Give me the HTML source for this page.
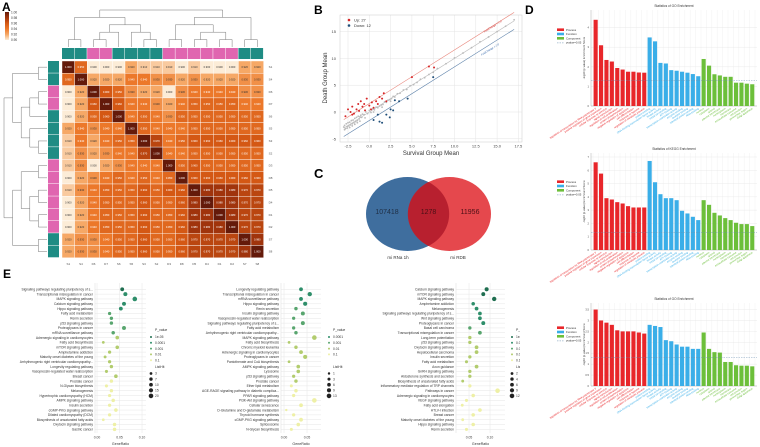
<!DOCTYPE html>
<html><head><meta charset="utf-8">
<style>
html,body{margin:0;padding:0;background:#fff;}
svg{display:block;font-family:"Liberation Sans",sans-serif;}
</style></head>
<body>
<svg id="fig" width="760" height="447" viewBox="0 0 760 447" xmlns="http://www.w3.org/2000/svg">
<rect x="0" y="0" width="760" height="447" fill="#fff"/>
<g id="gA"></g>
<g id="gB"></g>
<g id="gC">
  <text x="314" y="178" font-size="13" font-weight="bold">C</text>
  <ellipse cx="407.5" cy="214" rx="41.5" ry="37" fill="#3f6e9e"/>
  <ellipse cx="449.5" cy="214" rx="41.5" ry="37" fill="#e5484d"/>
  <path d="M428.5 182 A41.5 37 0 0 1 428.5 246 A41.5 37 0 0 1 428.5 182Z" fill="#b8202f"/>
  <text x="387" y="214" font-size="7" text-anchor="middle" fill="#1f2f45">107418</text>
  <text x="428.5" y="214" font-size="7" text-anchor="middle" fill="#4a1016">1278</text>
  <text x="470" y="214" font-size="7" text-anchor="middle" fill="#4a1016">11956</text>
  <text x="398" y="259" font-size="4.5" text-anchor="middle" fill="#333">mi RNa 1h</text>
  <text x="458" y="259" font-size="4.5" text-anchor="middle" fill="#333">mi RDB</text>
</g>
<g id="gE"></g>
<rect x="520" y="318" width="40" height="129" fill="#fff"/>
<g id="gD"></g>
</svg>
<script>
// ---------- Panel A data ----------
const hmValues = [
[1.00,.95,.90,.90,.90,.92,.91,.91,.91,.90,.91,.90,.90,.90,.92,.92],
[.95,1.00,.92,.92,.92,.94,.94,.93,.93,.92,.93,.92,.92,.92,.93,.93],
[.90,.92,1.00,.96,.95,.93,.92,.92,.90,.93,.94,.94,.94,.94,.93,.93],
[.90,.92,.96,1.00,.96,.94,.94,.93,.92,.94,.95,.95,.95,.95,.94,.94],
[.90,.92,.95,.96,1.00,.94,.95,.94,.93,.95,.95,.95,.95,.95,.95,.95],
[.92,.94,.93,.94,.94,1.00,.95,.94,.94,.94,.95,.95,.95,.95,.95,.95],
[.91,.94,.92,.94,.95,.95,1.00,.97,.94,.95,.96,.96,.96,.96,.96,.96],
[.91,.93,.92,.93,.94,.94,.97,1.00,.94,.94,.95,.95,.95,.95,.95,.95],
[.91,.93,.90,.92,.93,.94,.94,.94,1.00,.95,.96,.95,.95,.95,.95,.95],
[.90,.92,.93,.94,.95,.94,.95,.94,.95,1.00,.96,.96,.96,.96,.96,.96],
[.91,.93,.94,.95,.95,.95,.96,.95,.96,.96,1.00,.98,.98,.98,.97,.97],
[.90,.92,.94,.95,.95,.95,.96,.95,.95,.96,.98,1.00,.98,.98,.97,.97],
[.90,.92,.94,.95,.95,.95,.96,.95,.95,.96,.98,.98,1.00,.98,.97,.97],
[.90,.92,.94,.95,.95,.95,.96,.95,.95,.96,.98,.98,.98,1.00,.97,.97],
[.92,.93,.93,.94,.95,.95,.96,.95,.95,.96,.97,.97,.97,.97,1.00,.98],
[.92,.93,.93,.94,.95,.95,.96,.95,.95,.96,.97,.97,.97,.97,.98,1.00]];
const hmGroups = ['S','S','D','D','S','S','S','S','D','D','D','D','D','D','S','S'];
const hmLabels = ['S1','S4','D6','D7','S6','S5','S3','S2','D3','D8','D5','D4','D1','D2','S7','S8'];
const hmTicks = ['1.00','0.98','0.96','0.94','0.92','0.90'];
// ---------- Panel B data ----------
const upX = [-2.5,-2.2,-2,-1.8,-1.5,-1.3,-1,-0.8,-0.5,-0.3,0,0.3,0.5,0.8,1,1.5,1.7,2,-2.8,-2,-1.2,0.2,5,7,7.6,-0.6,1.2];
const upY = [0.5,0,1,-0.3,0.5,1.5,2,1,0.3,2.5,1.2,1.8,0.8,2,1.5,2.5,3.5,2,-0.8,-0.5,0.2,0.5,6.5,8.5,8.3,1.5,2.8];
const downX = [0.5,1,1.2,2,2.5,2.8,3,4.5,2.4,7.5,1.5,3.5];
const downY = [-1.5,-0.5,-1.8,-0.5,0.5,0.3,2.2,2.5,-1,6.5,-2,2];
const grayX = [-3,-2.9,-2.8,-2.7,-2.6,-2.5,-2.4,-2.3,-2.2,-2.1,-2,-1.9,-1.8,-1.7,-1.6,-1.5,-1.4,-1.3,-1.2,-1.1,-1,-0.9,-0.8,-0.6,-0.4,-0.2,0,0.2,0.4,0.6,0.8,1,1.2,1.4,1.6,1.8,2,2.2,2.4,2.6,2.8,3,3.3,3.6,4,4.4,4.8,5.2,5.6,6,6.5,7,7.5,8,9,10,11,12,13,14,15,16,17,-2.9,-2.6,-2.3,-2,-1.7,-1.4,-1.1,-0.5,0.5,1.5,2.5];
const grayY = [-2.8,-2.5,-3.1,-2.2,-2.7,-2,-2.6,-1.9,-2.4,-1.6,-2.2,-1.5,-2,-1.2,-1.8,-1,-1.6,-0.8,-1.3,-0.9,-0.6,-1,-0.4,-0.5,0,-0.3,0.3,-0.1,0.6,0.4,0.9,0.8,1.1,1.3,1.4,1.9,1.8,2.2,2.3,2.5,2.9,2.8,3.4,3.5,4.1,4.2,4.9,5.1,5.5,6.1,6.4,7,7.4,8.1,9,10.1,11,12,13.1,14,15,16,17.2,-3.3,-3.0,-2.9,-2.6,-2.3,-2.0,-1.7,-1.1,0.0,0.9,2.0];
const bXTicks = [-2.5,0,2.5,5,7.5,10,12.5,15,17.5];
const bYTicks = [-5,0,5,10,15];
// ---------- Panel D data ----------
const d1Values = [4.4,3.1,2.35,2.27,1.94,1.86,1.75,1.75,1.71,1.70,3.5,3.3,2.2,2.17,1.83,1.8,1.75,1.7,1.63,1.52,2.4,2.06,1.62,1.56,1.49,1.49,1.19,1.19,1.14,1.11];
const d2Values = [6.6,5.75,3.9,3.8,3.6,3.5,3.3,3.2,3.2,3.2,6.7,5.1,4.2,3.9,3.9,3.75,2.95,2.75,2.5,2.25,3.75,3.4,2.8,2.6,2.4,2.25,2.05,1.95,1.95,1.8];
const d3Values = [3.5,3.0,2.9,2.8,2.55,2.5,2.5,2.5,2.45,2.4,2.8,2.75,2.7,2.1,2.05,1.9,1.8,1.8,1.7,1.7,2.45,1.7,1.55,1.53,1.1,1.1,0.95,0.93,0.93,0.9];
const dCategories = ['Process','Function','Component'];
const dTerms = ['regulation of transcription by RNA polymerase II','positive regulation of gene expression','cellular response to stimulus','signal transduction','regulation of cell proliferation','protein phosphorylation','negative regulation of apoptosis','cell differentiation','response to hypoxia','regulation of metabolic process',
'protein binding','DNA-binding transcription factor activity','kinase activity','metal ion binding','ATP binding','transcription coactivator activity','enzyme binding','receptor binding','identical protein binding','RNA binding',
'nucleus','cytoplasm','cytosol','plasma membrane','nucleoplasm','membrane','extracellular exosome','cell junction','perinuclear region','Golgi apparatus'];
// ---------- Panel E data ----------
const e1Terms = ['Signaling pathways regulating pluripotency of s...','Transcriptional misregulation in cancer','MAPK signaling pathway','Calcium signaling pathway','Hippo signaling pathway','Fatty acid metabolism','Renin secretion','p53 signaling pathway','Proteoglycans in cancer','mRNA surveillance pathway','Adrenergic signaling in cardiomyocytes','Fatty acid biosynthesis','mTOR signaling pathway','Amphetamine addiction','Maturity onset diabetes of the young','Arrhythmogenic right ventricular cardiomyopathy...','Longevity regulating pathway','Vasopressin-regulated water reabsorption','Breast cancer','Prostate cancer','N-Glycan biosynthesis','Melanogenesis','Hypertrophic cardiomyopathy (HCM)','AMPK signaling pathway','Insulin secretion','cGMP-PKG signaling pathway','Dilated cardiomyopathy (DCM)','Biosynthesis of unsaturated fatty acids','Oxytocin signaling pathway','Gastric cancer'];
const e1Ratio = [.056,.063,.084,.060,.053,.028,.032,.032,.060,.036,.045,.014,.045,.028,.018,.028,.032,.021,.042,.032,.021,.032,.028,.036,.028,.042,.028,.014,.039,.039];
const e1Cat = [0,1,1,1,1,2,2,2,2,2,3,3,3,3,3,3,3,3,3,4,4,4,4,4,4,4,4,4,4,4];
const e1Count = [11,13,20,12,11,6,7,7,12,8,9,3,9,6,4,6,7,5,9,7,5,7,6,8,6,9,6,3,8,8];
const e2Terms = ['Longevity regulating pathway','Transcriptional misregulation in cancer','mRNA surveillance pathway','Hippo signaling pathway','Renin secretion','Insulin signaling pathway','Vasopressin-regulated water reabsorption','Signaling pathways regulating pluripotency of s...','Fatty acid metabolism','Arrhythmogenic right ventricular cardiomyopathy...','MAPK signaling pathway','Fatty acid biosynthesis','Chronic myeloid leukemia','Adrenergic signaling in cardiomyocytes','Proteoglycans in cancer','Pantothenate and CoA biosynthesis','AMPK signaling pathway','Lysosome','p53 signaling pathway','Prostate cancer','Ether lipid metabolism','AGE-RAGE signaling pathway in diabetic complica...','PPAR signaling pathway','PI3K-Akt signaling pathway','Cellular senescence','D-Glutamine and D-glutamate metabolism','Thyroid hormone synthesis','cGMP-PKG signaling pathway','Spliceosome','N-Glycan biosynthesis'];
const e2Ratio = [.037,.056,.037,.046,.026,.041,.021,.041,.021,.026,.066,.011,.026,.037,.046,.011,.031,.031,.021,.026,.016,.026,.021,.066,.037,.005,.021,.037,.031,.016];
const e2Cat = [1,1,1,1,2,2,2,2,2,2,3,3,3,3,3,3,3,3,3,3,4,4,4,4,4,4,4,4,4,4];
const e2Count = [7,11,7,9,5,8,4,8,4,5,13,2,5,7,9,2,6,6,4,5,3,5,4,13,7,1,4,7,6,3];
const e3Terms = ['Calcium signaling pathway','mTOR signaling pathway','MAPK signaling pathway','Amphetamine addiction','Melanogenesis','Signaling pathways regulating pluripotency of s...','Wnt signaling pathway','Proteoglycans in cancer','Basal cell carcinoma','Transcriptional misregulation in cancer','Long-term potentiation','p53 signaling pathway','Oxytocin signaling pathway','Hepatocellular carcinoma','Insulin secretion','Fatty acid metabolism','Axon guidance','GnRH signaling pathway','Aldosterone synthesis and secretion','Biosynthesis of unsaturated fatty acids','Inflammatory mediator regulation of TRP channels','Pathways in cancer','Adrenergic signaling in cardiomyocytes','VEGF signaling pathway','Fatty acid elongation','HTLV-I infection','Breast cancer','Maturity onset diabetes of the young','Hippo signaling pathway','Renin secretion'];
const e3Ratio = [.092,.084,.110,.060,.068,.076,.076,.084,.052,.076,.052,.052,.068,.068,.052,.044,.068,.052,.052,.035,.052,.118,.060,.044,.034,.076,.060,.035,.060,.044];
const e3Cat = [0,0,0,1,1,1,1,1,2,2,3,3,3,3,3,3,3,3,3,3,4,4,4,4,4,4,4,4,4,4];
const e3Count = [8,7,10,5,6,6,6,7,4,6,4,4,6,6,4,3,6,4,4,2,4,12,5,3,2,6,5,2,5,3];

const NS='http://www.w3.org/2000/svg';
function mk(tag,a,p){const e=document.createElementNS(NS,tag);for(const k in a)e.setAttribute(k,a[k]);p.appendChild(e);return e;}
function tx(s,x,y,size,a,p){const e=mk('text',Object.assign({x:x,y:y,'font-size':size},a||{}),p);e.textContent=s;return e;}

// ================= Panel A =================
(function(){
const g=document.getElementById('gA');
const x0=62,y0=61,cw=12.6,ch=12.3,n=16;
const stops=[[0.90,[252,236,215]],[0.92,[246,168,102]],[0.94,[236,120,42]],[0.96,[212,88,20]],[0.98,[160,52,12]],[1.00,[100,26,10]]];
function col(v){v=Math.max(.9,Math.min(1,v));for(let i=0;i<stops.length-1;i++){const a=stops[i],b=stops[i+1];if(v<=b[0]){const t=(v-a[0])/(b[0]-a[0]);return 'rgb('+a[1].map((c,j)=>Math.round(c+(b[1][j]-c)*t)).join(',')+')';}}return 'rgb(100,26,10)';}
let l=tx('A',2,11,12,{'font-weight':'bold'},g);


const defs=mk('defs',{},g);
const lg=mk('linearGradient',{id:'cbg',x1:0,y1:0,x2:0,y2:1},defs);
[1.0,0.98,0.96,0.94,0.92,0.90].forEach((v,i)=>mk('stop',{offset:i/5,'stop-color':col(v)},lg));
const cb=mk('rect',{x:5,y:12,width:4,height:28,fill:'url(#cbg)'},g);


hmTicks.forEach((t,i)=>{const e=tx(t,11,13.5+i*5.5,3.2,{fill:'#333'},g);

});
const gc={S:'#1e8c84',D:'#e066b0'};
hmGroups.forEach((gr,i)=>{
 const t=mk('rect',{x:x0+i*cw,y:48,width:cw-0.5,height:11,fill:gc[gr]},g);
 
 
 const r=mk('rect',{x:48,y:y0+i*ch,width:11,height:ch-0.5,fill:gc[gr]},g);
 
 
});
hmValues.forEach((row,i)=>row.forEach((v,j)=>{
 const c=mk('rect',{x:x0+j*cw,y:y0+i*ch,width:cw,height:ch,fill:col(v),stroke:'#fff','stroke-width':0.4},g);
 
 
 const t=tx(v.toFixed(3),x0+j*cw+cw/2,y0+i*ch+ch/2+1,2.6,{'text-anchor':'middle',fill:v>=0.94?'#fff':'#333'},g);
 
 
}));
hmLabels.forEach((s,i)=>{
 const a=tx(s,x0+i*cw+cw/2,265,3,{'text-anchor':'middle',fill:'#555'},g);
 
 
 const b=tx(s,x0+n*cw+5,y0+i*ch+ch/2+1,3,{fill:'#555'},g);
 
 
});
const tree=[[[0,1],[[[2,3],4],[5,[6,7]]]],[[[8,9],[[10,11],[12,13]]],[14,15]]];
function ht(t){return typeof t==='number'?0:1+Math.max(ht(t[0]),ht(t[1]));}
const H=ht(tree);
function draw(t,top){
 if(typeof t==='number')return [t+0.5,0];
 const a=draw(t[0],top),b=draw(t[1],top),h=ht(t);
 if(top){const Y=v=>47-v/H*37, X=p=>x0+p*cw;
  const p=mk('path',{d:`M${X(a[0])} ${Y(a[1])}V${Y(h)}H${X(b[0])}V${Y(b[1])}`,fill:'none',stroke:'#777','stroke-width':0.5},g);
  
  }
 else{const X=v=>47-v/H*43, Y=p=>y0+p*ch;
  const p=mk('path',{d:`M${X(a[1])} ${Y(a[0])}H${X(h)}V${Y(b[0])}H${X(b[1])}`,fill:'none',stroke:'#777','stroke-width':0.5},g);
  
  }
 return [(a[0]+b[0])/2,h];
}
draw(tree,true);draw(tree,false);
})();

// ================= Panel B =================
(function(){
const g=document.getElementById('gB');
const X=v=>348+(v+2.5)*8.52, Y=v=>112-v*5.36;
const L=340,R=522,T=15,B=142;
let e=tx('B',314,14,12,{'font-weight':'bold'},g);


bXTicks.forEach(v=>{const l=mk('line',{x1:X(v),x2:X(v),y1:T,y2:B,stroke:'#e4e4e4','stroke-width':0.5},g);
 
 
 const t=tx(v.toFixed(1),X(v),147.5,4,{'text-anchor':'middle',fill:'#444'},g);
 
 });
bYTicks.forEach(v=>{const l=mk('line',{x1:L,x2:R,y1:Y(v),y2:Y(v),stroke:'#e4e4e4','stroke-width':0.5},g);
 
 
 const t=tx(String(v),336,Y(v)+1.5,4,{'text-anchor':'end',fill:'#444'},g);
 
 });
const fr=mk('rect',{x:L,y:T,width:R-L,height:B-T,fill:'none',stroke:'#ccc','stroke-width':0.5},g);


[[1.58,'#e8857a','red-foldchange-line'],[0,'#bbb','identity-line'],[-1.58,'#5a7fa8','blue-foldchange-line']].forEach(d=>{
 const l=mk('line',{x1:X(-3),y1:Y(-3+d[0]),x2:X(17),y2:Y(17+d[0]),stroke:d[1],'stroke-width':0.6},g);
 
 });
e=tx('FoldChange > 2.0',X(13.5),Y(14.8),2.6,{fill:'#c33',transform:`rotate(-32 ${X(13.5)} ${Y(14.8)})`},g);


e=tx('FoldChange < 2.0',X(13.2),Y(10.5),2.6,{fill:'#36a',transform:`rotate(-32 ${X(13.2)} ${Y(10.5)})`},g);


grayX.forEach((v,i)=>{const c=mk('circle',{cx:X(v),cy:Y(grayY[i]),r:0.9,fill:'#bbb'},g);
 
 });
upX.forEach((v,i)=>{const c=mk('circle',{cx:X(v),cy:Y(upY[i]),r:1,fill:'#d62728'},g);
 
 });
downX.forEach((v,i)=>{const c=mk('circle',{cx:X(v),cy:Y(downY[i]),r:1,fill:'#1f4e79'},g);
 
 });
e=mk('circle',{cx:349,cy:20,r:1.3,fill:'#d62728'},g);


e=tx('Up: '+upX.length,354,21.5,4,{fill:'#333'},g);


e=mk('circle',{cx:349,cy:25.5,r:1.3,fill:'#1f4e79'},g);


e=tx('Down: '+downX.length,354,27,4,{fill:'#333'},g);


e=tx('Survival Group Mean',431,155,6,{'text-anchor':'middle',fill:'#333'},g);


e=tx('Death Group Mean',327,78,6,{'text-anchor':'middle',fill:'#333',transform:'rotate(-90 327 78)'},g);


})();

// ================= Panel D =================
(function(){
const g=document.getElementById('gD');
let e=tx('D',525,14,12,{'font-weight':'bold'},g);


const cols=['#e8262a','#3aaee8','#6cbf3a'];
const charts=[{v:d1Values,top:10,bot:106,max:4.9,title:'Statistics of GO Enrichment',leg:30,ticks:[0,1,2,3,4]},
 {v:d2Values,top:153,bot:250,max:7.3,title:'Statistics of KEGG Enrichment',leg:182,ticks:[0,1,2,3,4,5,6,7]},
 {v:d3Values,top:303,bot:386,max:3.8,title:'Statistics of GO Enrichment',leg:328,ticks:[0,0.5,1,1.5,2,2.5,3,3.5]}];
const L=591,R=757,slot=(R-L-4)/30;
charts.forEach((c,ci)=>{
 const Y=v=>c.bot-v/c.max*(c.bot-c.top);
 e=tx(c.title,674,c.top-3,3.2,{'text-anchor':'middle',fill:'#333'},g);
 
 
 for(let i=0;i<=30;i++){const l=mk('line',{x1:L+2+i*slot,x2:L+2+i*slot,y1:c.top,y2:c.bot,stroke:'#eee','stroke-width':0.4},g);
  
  }
 c.ticks.forEach(t=>{const l=mk('line',{x1:L,x2:R,y1:Y(t),y2:Y(t),stroke:'#e6e6e6','stroke-width':0.4},g);
  
  
  const s=tx(String(t),L-2,Y(t)+1,2.6,{'text-anchor':'end',fill:'#444'},g);
  
  });
 const ax=mk('path',{d:`M${L} ${c.top}V${c.bot}H${R}`,fill:'none',stroke:'#999','stroke-width':0.4},g);
 
 
 c.v.forEach((v,i)=>{
  const x=L+2+i*slot+0.6;
  const b=mk('rect',{x:x,y:Y(v),width:slot-1.3,height:c.bot-Y(v),fill:cols[Math.floor(i/10)]},g);
  
  
  const xc=x+slot/2;
  const t=tx(dTerms[i],xc,c.bot+3,2.6,{'text-anchor':'end',fill:cols[Math.floor(i/10)],transform:`rotate(-33 ${xc} ${c.bot+3})`},g);
  
  
 });
 const pl=mk('line',{x1:L,x2:R,y1:Y(1.3),y2:Y(1.3),stroke:'#6a8fb0','stroke-width':0.4,'stroke-dasharray':'1.5 1'},g);
 
 
 e=tx('-log10 (p value) Enrichment Score',585,(c.top+c.bot)/2,2.8,{'text-anchor':'middle',fill:'#333',transform:`rotate(-90 585 ${(c.top+c.bot)/2})`},g);
 
 
 ['Process','Function','Component'].forEach((s,k)=>{
  const r=mk('rect',{x:557,y:c.leg+k*4.3-1.6,width:7,height:2.6,fill:cols[k]},g);
  
  
  const t=tx(s,566,c.leg+k*4.3+0.8,2.8,{fill:'#333'},g);
  
  });
 const dl=mk('line',{x1:557,x2:564,y1:c.leg+12.9,y2:c.leg+12.9,stroke:'#6a8fb0','stroke-width':0.5,'stroke-dasharray':'1.5 1'},g);
 
 
 e=tx('pvalue=0.05',566,c.leg+13.7,2.8,{fill:'#333'},g);
 
 
});
})();

// ================= Panel E =================
(function(){
const g=document.getElementById('gE');
let e=tx('E',3,278,12,{'font-weight':'bold'},g);


const pc=['#1f6e50','#2e8e6a','#58a56e','#b2cc6e','#eef0a6'];
const plots=[
 {terms:e1Terms,ratio:e1Ratio,cat:e1Cat,count:e1Count,zero:97,scale:450,L:95,R:146,ticks:[0,0.05,0.10],legX:150,pl:['1e-05','0.0001','0.001','0.01','0.1'],sl:['3','7','10','15','20'],sv:[3,7,10,15,20]},
 {terms:e2Terms,ratio:e2Ratio,cat:e2Cat,count:e2Count,zero:284,scale:460,L:281,R:321,ticks:[0,0.05],legX:328,pl:['0.0001','0.001','0.01','0.1'],sl:['1','3','6','9','13'],sv:[1,3,6,9,13]},
 {terms:e3Terms,ratio:e3Ratio,cat:e3Cat,count:e3Count,zero:448,scale:420,L:456,R:505,ticks:[0.05,0.10],legX:511,pl:['1e-05','0.0001','0.001','0.01','0.1'],sl:['2','4','6','9','12'],sv:[2,4,6,9,12]}];
plots.forEach((p,pi)=>{
 const X=v=>p.zero+v*p.scale, Y=i=>289.3+i*4.83;
 const maxC=Math.max(...p.sv);
 const rad=c=>0.8+1.5*Math.sqrt(c/maxC);
 p.ticks.forEach(t=>{const l=mk('line',{x1:X(t),x2:X(t),y1:283,y2:433,stroke:'#e6e6e6','stroke-width':0.5},g);
  
  
  const s=tx(t.toFixed(2),X(t),438.5,3.4,{'text-anchor':'middle',fill:'#444'},g);
  
  });
 p.terms.forEach((s,i)=>{
  const l=mk('line',{x1:p.L,x2:p.R,y1:Y(i),y2:Y(i),stroke:'#e6e6e6','stroke-width':0.5},g);
  
  
  const t=tx(s,p.L-2,Y(i)+1.2,3.3,{'text-anchor':'end',fill:'#333'},g);
  
  
  const c=mk('circle',{cx:X(p.ratio[i]),cy:Y(i),r:rad(p.count[i]),fill:pc[p.cat[i]]},g);
  
  
 });
 const ax=mk('line',{x1:p.L,x2:p.L,y1:283,y2:433,stroke:'#ddd','stroke-width':0.5},g);
 
 
 e=tx('GeneRatio',(p.L+p.R)/2,445,3.6,{'text-anchor':'middle',fill:'#333'},g);
 
 
 e=tx('P_value',p.legX+5,331,3.4,{fill:'#333'},g);
 
 
 const off=5-p.pl.length;
 p.pl.forEach((s,k)=>{
  const c=mk('circle',{cx:p.legX+1,cy:337+k*5.8,r:1,fill:pc[k+off]},g);
  
  
  const t=tx(s,p.legX+5,338.2+k*5.8,3.3,{fill:'#333'},g);
  
  });
 e=tx('ListHit',p.legX+5,368,3.4,{fill:'#333'},g);
 
 
 p.sl.forEach((s,k)=>{
  const c=mk('circle',{cx:p.legX+1,cy:373.5+k*5.6,r:rad(p.sv[k]),fill:'#222'},g);
  
  
  const t=tx(s,p.legX+5,374.7+k*5.6,3.3,{fill:'#333'},g);
  
  });
});
})();
</script>
</body></html>
